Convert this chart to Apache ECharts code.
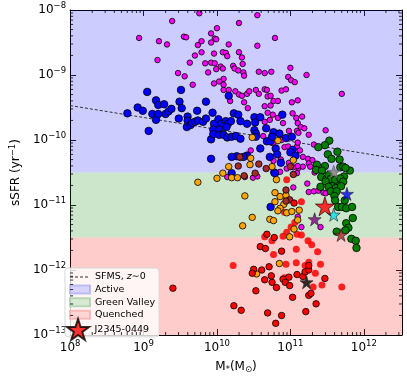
<!DOCTYPE html>
<html>
<head>
<meta charset="utf-8">
<script src="https://cdn.jsdelivr.net/npm/echarts@6/dist/echarts.min.js"></script>
<style>
html, body { margin: 0; padding: 0; background: #fff; }
#divChart { width: 407px; height: 379px; }
</style>
</head>
<body>
<div id="divChart"></div>
<script>
// values as [log10 M*, log10 sSFR]
var blueGal = [[8.78,-9.59],[8.92,-9.50],[8.99,-9.55],[9.05,-9.26],[9.07,-9.86],[9.12,-9.60],[9.17,-9.69],[9.17,-9.39],[9.20,-9.46],[9.20,-9.60],[9.28,-9.45],[9.30,-9.60],[9.34,-9.56],[9.38,-9.52],[9.48,-9.67],[9.49,-9.41],[9.51,-9.23],[9.52,-9.51],[9.59,-9.80],[9.60,-9.64],[9.60,-9.70],[9.64,-9.77],[9.66,-9.74],[9.70,-9.72],[9.73,-9.55],[9.74,-9.70],[9.85,-9.41],[9.92,-10.29],[9.92,-9.99],[9.94,-9.58],[9.96,-9.75],[9.95,-9.84],[9.95,-9.91],[9.81,-9.72],[9.85,-9.67],[10.02,-9.68],[10.06,-9.75],[10.12,-9.71],[10.15,-9.75],[10.19,-9.71],[10.23,-9.59],[10.29,-9.61],[10.32,-9.71],[10.41,-9.75],[10.51,-9.65],[10.52,-9.73],[10.59,-9.65],[10.13,-9.80],[10.03,-9.84],[10.03,-9.92],[10.09,-9.92],[10.14,-9.96],[10.20,-9.95],[10.26,-9.94],[10.32,-9.98],[10.51,-9.85],[10.53,-9.90],[10.53,-9.95],[10.67,-9.82],[10.77,-9.88],[10.85,-9.90],[10.89,-9.61],[10.94,-9.97],[10.68,-10.02],[10.73,-10.02],[10.80,-10.13],[10.59,-10.13],[10.41,-10.24],[10.36,-10.26],[10.27,-10.25],[10.20,-10.26],[10.72,-10.26],[10.87,-10.35],[10.82,-10.22],[11.03,-10.15],[10.78,-10.50],[11.02,-9.95],[10.75,-9.95],[11.00,-10.19],[11.07,-10.24],[10.16,-9.32],[10.73,-11.03],[10.20,-10.51],[10.79,-10.51]];
var magentaGal = [[8.94,-8.43],[9.21,-8.48],[9.32,-8.53],[9.19,-8.77],[9.39,-8.17],[9.55,-8.41],[9.58,-8.42],[9.47,-8.97],[9.56,-9.02],[9.63,-8.81],[9.67,-9.15],[9.70,-8.70],[9.76,-8.05],[9.74,-8.54],[9.79,-8.48],[9.79,-8.65],[9.84,-8.82],[9.92,-8.36],[9.88,-8.96],[9.96,-8.67],[9.96,-9.13],[9.97,-8.44],[10.55,-8.08],[10.30,-8.20],[10.00,-8.28],[9.92,-8.50],[9.99,-8.45],[10.16,-8.53],[10.55,-8.55],[10.79,-8.43],[10.08,-8.65],[10.12,-8.66],[10.14,-8.71],[10.30,-8.65],[10.34,-8.73],[9.92,-8.81],[9.97,-8.82],[10.35,-8.83],[10.22,-8.86],[10.24,-8.90],[10.29,-8.93],[10.05,-8.87],[10.08,-8.90],[9.99,-8.91],[10.36,-8.96],[10.37,-9.01],[10.57,-8.95],[10.65,-8.97],[10.74,-8.95],[11.00,-8.89],[10.97,-9.03],[11.01,-9.08],[11.06,-9.11],[10.09,-9.06],[10.03,-9.10],[10.09,-9.15],[10.09,-9.23],[10.16,-9.23],[10.25,-9.25],[10.30,-9.30],[10.34,-9.32],[10.41,-9.29],[10.44,-9.25],[10.53,-9.23],[10.57,-9.29],[10.65,-9.22],[10.68,-9.23],[10.69,-9.33],[10.73,-9.32],[10.77,-9.40],[10.83,-9.40],[10.88,-9.24],[10.94,-9.22],[11.02,-9.42],[11.10,-9.39],[10.18,-9.40],[10.37,-9.42],[11.22,-9.00],[11.70,-9.29],[11.48,-9.85],[11.25,-9.92],[10.42,-9.51],[10.65,-9.48],[10.69,-9.58],[10.73,-9.47],[10.76,-9.61],[10.83,-9.66],[10.65,-9.72],[10.72,-9.69],[10.90,-9.74],[11.03,-9.59],[11.10,-9.74],[11.14,-9.80],[10.98,-9.86],[11.09,-9.86],[10.63,-9.94],[10.76,-10.05],[10.88,-10.00],[10.92,-10.11],[10.97,-10.10],[11.09,-10.10],[11.10,-10.04],[10.46,-10.16],[10.77,-10.32],[10.87,-10.30],[10.98,-10.35],[11.04,-10.42],[11.11,-10.43],[10.86,-10.49],[10.95,-10.44],[10.49,-10.58],[10.55,-10.56],[10.38,-10.57],[10.14,-10.57],[11.09,-10.51],[11.08,-9.66],[11.16,-9.64],[11.32,-10.07],[11.19,-9.82],[11.11,-9.89],[11.13,-10.16],[11.17,-10.26],[11.24,-10.29],[11.30,-10.31],[11.25,-10.36],[11.27,-10.41],[11.17,-10.41],[11.10,-10.40],[11.33,-10.50],[11.23,-10.67],[11.04,-10.73],[11.25,-10.80],[11.32,-10.79],[11.38,-10.78],[11.45,-10.81],[11.48,-10.82],[11.10,-11.18],[11.15,-11.34],[11.41,-11.34]];
var orangeGal = [[9.74,-10.65],[10.48,-9.96],[10.32,-10.27],[10.46,-10.28],[10.45,-10.38],[10.16,-10.41],[10.08,-10.51],[10.20,-10.58],[10.28,-10.58],[10.00,-10.59],[10.75,-10.41],[10.83,-10.01],[11.04,-10.31],[10.81,-10.61],[10.38,-10.86],[10.79,-10.81],[10.86,-10.87],[10.79,-10.95],[10.94,-10.85],[10.91,-10.99],[10.86,-11.05],[10.83,-11.09],[10.95,-11.12],[11.02,-11.10],[11.12,-11.08],[10.48,-11.19],[10.72,-11.22],[10.77,-11.24],[10.35,-11.32],[11.10,-11.23],[11.05,-11.37],[10.99,-11.49],[10.85,-11.90],[10.54,-12.06]];
var brownGal = [[10.31,-10.26],[10.29,-10.40],[10.57,-10.37],[10.67,-10.44],[10.52,-10.51],[10.37,-10.55],[11.00,-10.41],[11.04,-10.53],[10.94,-10.77],[10.99,-10.92],[10.94,-10.94]];
var greenGal = [[11.53,-10.01],[11.47,-10.08],[11.38,-10.11],[11.64,-10.18],[11.51,-10.22],[11.56,-10.29],[11.67,-10.30],[11.36,-10.38],[11.47,-10.40],[11.68,-10.42],[11.35,-10.46],[11.43,-10.47],[11.72,-10.41],[11.81,-10.47],[11.73,-10.56],[11.42,-10.57],[11.49,-10.60],[11.65,-10.67],[11.55,-10.67],[11.75,-10.43],[11.52,-10.54],[11.55,-10.60],[11.48,-10.64],[11.61,-10.61],[11.68,-10.59],[11.72,-10.64],[11.41,-10.72],[11.52,-10.72],[11.62,-10.74],[11.69,-10.71],[11.55,-10.79],[11.63,-10.79],[11.60,-10.86],[11.61,-10.93],[11.65,-11.03],[11.70,-11.03],[11.76,-11.05],[11.84,-11.03],[11.74,-10.93],[11.85,-11.20],[11.76,-11.28],[11.79,-11.35],[11.75,-11.39],[11.63,-11.41],[11.83,-11.52],[11.89,-11.55],[11.90,-11.66]];
var redGal = [[9.40,-12.28],[10.23,-12.55],[10.33,-12.62],[10.50,-11.99],[10.48,-12.05],[10.61,-12.00],[10.59,-11.64],[10.66,-11.67],[10.68,-11.45],[10.78,-11.50],[10.71,-11.95],[10.74,-12.09],[10.65,-12.15],[10.53,-12.32],[10.75,-12.19],[10.81,-12.27],[10.90,-12.14],[10.93,-12.19],[10.98,-12.11],[10.99,-12.24],[10.88,-11.71],[11.09,-12.07],[11.17,-12.10],[11.20,-12.03],[11.25,-12.00],[11.25,-11.93],[11.03,-12.42],[11.25,-12.39],[11.28,-12.36],[11.47,-12.13],[11.35,-12.52],[11.21,-12.64],[10.88,-12.70],[10.69,-12.66],[10.80,-12.82],[11.05,-10.97]];
var redFaint = [[10.95,-10.61],[10.92,-11.11],[11.06,-11.27],[10.95,-11.42],[10.90,-11.48],[11.09,-11.45],[11.15,-11.46],[10.65,-11.49],[10.75,-11.55],[11.08,-11.68],[10.77,-11.76],[10.22,-11.93],[10.94,-11.91],[11.24,-11.55],[11.29,-11.61],[11.37,-11.72],[11.08,-11.89],[11.25,-11.88],[11.41,-11.91],[10.92,-12.12],[11.43,-12.23],[11.70,-12.26],[11.31,-12.26],[11.34,-12.05],[11.20,-11.93],[11.01,-11.34],[11.15,-10.95]];
var starNames = ['blue', 'cyan', 'purple', 'brown', 'black', 'gray'];
var starColors = ['#0000ff', '#00e5ee', '#800080', '#a52a2a', '#000000', '#808080'];
var starPoints = [[11.77,-10.83],[11.59,-11.15],[11.33,-11.22],[11.69,-11.46],[11.22,-12.19],[11.59,-10.49]];
var targetStar = [[11.47,-11.02]];
var sfmsLine = [[8.0,-9.47],[12.52,-10.30]];
// band limits in log10 sSFR: quenched / green valley / active
var bandEdges = [-13, -11.5, -10.5, -8];
var xRange = [8, 12.52];
var yRange = [-13, -8];

var STAR = 'path://M50,0 L61.2,34.5 L97.6,34.5 L68.2,55.9 L79.4,90.5 L50,69.1 L20.6,90.5 L31.8,55.9 L2.4,34.5 L38.8,34.5 Z';
// dashed legend sample, the bare moves keep the icon box 20x8
var DASH = 'path://M0,0 M20,8 M0,3.5h3v1h-3z M5,3.5h3v1h-3z M10,3.5h3v1h-3z M15,3.5h3v1h-3z';
var FONT = 'DejaVu Sans';

function lin(p) {
    return [Math.pow(10, p[0]), Math.pow(10, p[1])];
}
function expLabel(v) {
    var e = Math.round(Math.log10(v));
    return '{b|10}{s|' + (e < 0 ? '\u2212' + (-e) : e) + '}';
}
var tickRich = {
    b : { fontSize : 12, fontFamily : FONT, color : '#000' },
    s : { fontSize : 8.5, fontFamily : FONT, color : '#000', padding : [0, 0, 8, 0] }
};

var xMin = Math.pow(10, xRange[0]), xMax = Math.pow(10, xRange[1]);
var yMin = Math.pow(10, yRange[0]), yMax = Math.pow(10, yRange[1]);

// minor ticks 2..9 per decade
var xMinor = [], yMinor = [];
for (var n = xRange[0]; n < xRange[1]; n++) {
    for (var k = 2; k < 10; k++) {
        if (Math.log10(k) + n < xRange[1]) xMinor.push([k * Math.pow(10, n)]);
    }
}
for (var n2 = yRange[0]; n2 < yRange[1]; n2++) {
    for (var k2 = 2; k2 < 10; k2++) {
        yMinor.push([k2 * Math.pow(10, n2)]);
    }
}

function scatterSeries(name, data, color, size, edge) {
    return {
        name : name,
        type : 'scatter',
        data : data.map(lin),
        symbolSize : size,
        itemStyle : {
            color : color,
            borderColor : edge ? '#000' : color,
            borderWidth : edge ? 0.8 : 0,
            opacity : 1
        },
        emphasis : { disabled : true },
        z : 3
    };
}
function bandSeries(name, lo, hi, fill, line, icon, iconEdge) {
    return {
        name : name,
        type : 'scatter',
        data : [],
        itemStyle : { color : icon, borderColor : iconEdge, borderWidth : 0.6 },
        markArea : {
            silent : true,
            itemStyle : { color : fill, borderWidth : 0 },
            data : [[{ yAxis : Math.pow(10, lo) }, { yAxis : Math.pow(10, hi) }]]
        },
        markLine : {
            silent : true,
            symbol : 'none',
            label : { show : false },
            lineStyle : { color : line, width : 1.2, type : 'solid' },
            data : hi < yRange[1] ? [{ yAxis : Math.pow(10, hi) }] : []
        },
        z : 1
    };
}

var myChart = echarts.init(document.getElementById('divChart'), null, { renderer : 'canvas' });

var series = [
    bandSeries('Active', bandEdges[2], bandEdges[3], 'rgba(0,0,255,0.2)', 'rgba(0,0,255,0.25)', '#ccccff', '#b0b0f0'),
    bandSeries('Green Valley', bandEdges[1], bandEdges[2], 'rgba(0,128,0,0.2)', 'rgba(40,140,40,0.75)', '#cce6cc', '#a8d0a8'),
    bandSeries('Quenched', bandEdges[0], bandEdges[1], 'rgba(255,0,0,0.2)', 'rgba(255,30,30,0.9)', '#ffcccc', '#f4b0b0'),
    {
        name : 'SFMS, z\u223c0',
        type : 'line',
        data : sfmsLine.map(lin),
        symbol : 'none',
        itemStyle : { color : '#333' },
        lineStyle : { color : '#333', width : 1, type : [3, 2] },
        emphasis : { disabled : true },
        z : 2
    },
    scatterSeries('faint', redFaint, 'rgba(255,0,0,0.85)', 7, false),
    scatterSeries('magenta', magentaGal, '#ff00ff', 5.5, true),
    scatterSeries('blue', blueGal, '#0000ff', 7.5, true),
    scatterSeries('orange', orangeGal, '#ffa500', 6.5, true),
    scatterSeries('brownGal', brownGal, '#a52a2a', 6.5, true),
    scatterSeries('red', redGal, '#ff0000', 6.5, true),
    scatterSeries('green', greenGal, '#008000', 7.5, true)
];
starPoints.forEach(function(p, i) {
    series.push({
        name : 'star-' + starNames[i],
        type : 'scatter',
        data : [lin(p)],
        symbol : STAR,
        symbolSize : 13,
        itemStyle : { color : starColors[i], borderColor : i == 5 ? '#555' : '#222', borderWidth : 0.8 },
        z : 4
    });
});
series.push({
    name : 'J2345-0449',
    type : 'scatter',
    data : targetStar.map(lin),
    symbol : STAR,
    symbolSize : 19,
    itemStyle : { color : '#ff0000', borderColor : '#000', borderWidth : 0.8 },
    z : 5
});
// minor ticks drawn through the axis scales
series.push({
    type : 'custom',
    data : xMinor,
    silent : true,
    z : 6,
    renderItem : function(params, api) {
        var v = api.value(0);
        var b = api.coord([v, yMin]), t = api.coord([v, yMax]);
        return { type : 'group', children : [
            { type : 'line', shape : { x1 : b[0], y1 : b[1], x2 : b[0], y2 : b[1] - 3 }, style : { stroke : '#000', lineWidth : 0.8 } },
            { type : 'line', shape : { x1 : t[0], y1 : t[1], x2 : t[0], y2 : t[1] + 3 }, style : { stroke : '#000', lineWidth : 0.8 } }
        ] };
    }
});
series.push({
    type : 'custom',
    data : yMinor,
    silent : true,
    z : 6,
    renderItem : function(params, api) {
        var v = api.value(0);
        var l = api.coord([xMin, v]), r = api.coord([xMax, v]);
        return { type : 'group', children : [
            { type : 'line', shape : { x1 : l[0], y1 : l[1], x2 : l[0] + 3, y2 : l[1] }, style : { stroke : '#000', lineWidth : 0.8 } },
            { type : 'line', shape : { x1 : r[0], y1 : r[1], x2 : r[0] - 3, y2 : r[1] }, style : { stroke : '#000', lineWidth : 0.8 } }
        ] };
    }
});

function logAxis(pos, min, max, labels) {
    return {
        type : 'log',
        logBase : 10,
        position : pos,
        min : min,
        max : max,
        splitNumber : 5,
        axisLine : { show : true, onZero : false, lineStyle : { color : '#000', width : 1 } },
        axisTick : { show : true, inside : true, length : 6, lineStyle : { color : '#000', width : 0.9 } },
        axisLabel : {
            show : labels,
            margin : 4,
            showMaxLabel : (pos == 'bottom' || pos == 'top') ? false : true,
            formatter : expLabel,
            rich : tickRich
        },
        splitLine : { show : false }
    };
}

var xBottom = logAxis('bottom', xMin, xMax, true);
xBottom.name = 'M{sub|*}(M{sub|\u2299})';
xBottom.nameLocation = 'middle';
xBottom.nameGap = 24;
xBottom.nameTextStyle = {
    fontSize : 12, fontFamily : FONT, color : '#000',
    rich : { sub : { fontSize : 8.5, fontFamily : FONT, color : '#000', padding : [6, 0, 0, 0] } }
};
var yLeft = logAxis('left', yMin, yMax, true);
yLeft.name = 'sSFR (yr{sup|\u22121})';
yLeft.nameLocation = 'middle';
yLeft.nameGap = 40;
yLeft.nameTextStyle = {
    fontSize : 12, fontFamily : FONT, color : '#000',
    rich : { sup : { fontSize : 8.5, fontFamily : FONT, color : '#000', padding : [0, 0, 7, 0] } }
};

option = {
    animation : false,
    backgroundColor : '#fff',
    textStyle : { fontFamily : FONT },
    grid : { left : 61, top : 10, width : 341, height : 331, containLabel : false },
    xAxis : [xBottom, logAxis('top', xMin, xMax, false)],
    yAxis : [yLeft, logAxis('right', yMin, yMax, false)],
    legend : [{
        orient : 'vertical',
        left : 65,
        top : 268,
        data : [
            { name : 'SFMS, z\u223c0', icon : DASH, itemStyle : { color : '#333', borderWidth : 0 } },
            { name : 'Active', icon : 'rect' },
            { name : 'Green Valley', icon : 'rect' },
            { name : 'Quenched', icon : 'rect' }
        ],
        itemWidth : 20,
        itemHeight : 8,
        itemGap : 2.6,
        padding : [4, 4, 17, 4],
        selectedMode : false,
        backgroundColor : 'rgba(255,255,255,0.8)',
        borderColor : '#d6d6d6',
        borderWidth : 1,
        borderRadius : 3,
        textStyle : {
            fontSize : 9.5, fontFamily : FONT, color : '#000',
            rich : { i : { fontStyle : 'italic', fontSize : 9.5, fontFamily : FONT } }
        },
        formatter : function(name) {
            if (name.indexOf('SFMS') == 0) return 'SFMS, {i|z}\u223c0';
            return name;
        }
    }, {
        orient : 'vertical',
        left : 66,
        top : 318,
        data : ['J2345-0449'],
        itemWidth : 23,
        itemHeight : 21,
        padding : 0,
        selectedMode : false,
        textStyle : { fontSize : 9.5, fontFamily : FONT, color : '#000' }
    }],
    series : series
};
myChart.setOption(option);
</script>
</body>
</html>
